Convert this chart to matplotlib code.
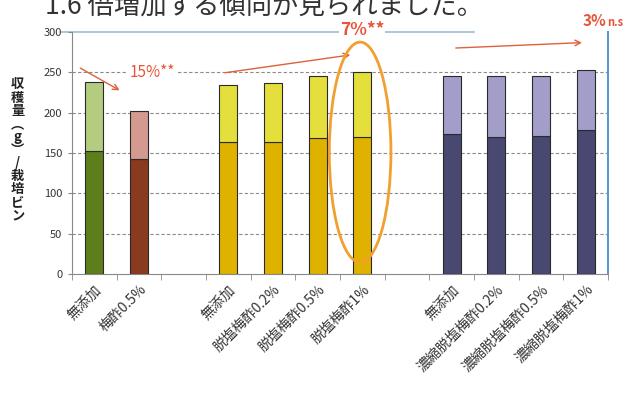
import numpy as np
import matplotlib
matplotlib.use("Agg")
import matplotlib.pyplot as plt
from matplotlib.patches import Ellipse

plt.rcParams['font.family'] = ['Noto Sans CJK JP', 'DejaVu Sans']

# categories ("" = empty slot between groups)
categories = ["無添加", "梅酢0.5%", "",
              "無添加", "脱塩梅酢0.2%", "脱塩梅酢0.5%", "脱塩梅酢1%", "",
              "無添加", "濃縮脱塩梅酢0.2%", "濃縮脱塩梅酢0.5%", "濃縮脱塩梅酢1%"]
lower = [152, 142, 0, 164, 164, 168, 170, 0, 173, 170, 171, 179]
total = [238, 202, 0, 234, 237, 246, 250, 0, 246, 246, 246, 253]
lower_colors = ["#5c7f1c", "#8a3a1f", None, "#dfb200", "#dfb200", "#dfb200", "#dfb200",
                None, "#484870", "#484870", "#484870", "#484870"]
upper_colors = ["#b4cc80", "#d49a8f", None, "#e4df3c", "#e4df3c", "#e4df3c", "#e4df3c",
                None, "#a29ec9", "#a29ec9", "#a29ec9", "#a29ec9"]
yticks = [0, 50, 100, 150, 200, 250, 300]

fig = plt.figure(figsize=(6.3, 3.97), dpi=100)
ax = fig.add_axes([0.1143, 0.3098, 0.8508, 0.6096])

x = np.arange(len(categories))
upper = [t - l for t, l in zip(total, lower)]
for i, name in enumerate(categories):
    if not name:
        continue
    ax.bar(x[i], lower[i], width=0.40, color=lower_colors[i], edgecolor="#2a2a2a", lw=0.8, zorder=3)
    ax.bar(x[i], upper[i], bottom=lower[i], width=0.40, color=upper_colors[i],
           edgecolor="#2a2a2a", lw=0.8, zorder=3)

ax.set_xlim(-0.5, len(categories) - 0.5)
ax.set_ylim(0, 300)

# grid lines
for v in yticks[1:-1]:
    ax.axhline(v, color="#8a8a8a", lw=0.8, ls=(0, (3, 2)), zorder=1)
ax.plot([-0.75, 8.5], [300, 300], color="#9fbcd0", lw=1.2, clip_on=False, zorder=1)

ax.set_yticks(yticks)
ax.tick_params(axis="y", length=3, color="#888888", labelsize=8, labelcolor="#333333", pad=4)
ax.set_xticks(x)
ax.set_xticklabels(categories, rotation=45, ha="right", rotation_mode="anchor",
                   fontsize=10, color="#333333")
ax.tick_params(axis="x", length=0, pad=6)
ax.set_xticks(np.arange(-0.5, len(categories)), minor=True)
ax.tick_params(axis="x", which="minor", length=4, color="#888888", direction="out")

ax.spines["top"].set_visible(False)
ax.spines["left"].set_color("#888888")
ax.spines["bottom"].set_color("#888888")
ax.spines["right"].set_color("#4a9ad4")
ax.spines["right"].set_linewidth(1.4)

# annotations
red = "#e8553a"
arrow = dict(arrowstyle="->", color="#e0603a", lw=1.0)
ax.annotate("", xy=(0.62, 226), xytext=(-0.37, 257), arrowprops=arrow, annotation_clip=False)
ax.annotate("", xy=(5.79, 272), xytext=(2.86, 249), arrowprops=arrow, annotation_clip=False)
ax.annotate("", xy=(10.98, 287), xytext=(8.03, 280), arrowprops=arrow, annotation_clip=False)

ax.text(1.3, 250, "15%**", color=red, fontsize=11, ha="center", va="center",
        bbox=dict(facecolor="white", edgecolor="none", pad=1), zorder=4)
ax.text(6.0, 302, "7%**", color=red, fontsize=12.5, fontweight="bold", ha="center", va="center",
        bbox=dict(facecolor="white", edgecolor="none", pad=0.5), zorder=4, clip_on=False)
ax.text(11.2, 314, "3%", color=red, fontsize=11, fontweight="bold", ha="center", va="center",
        clip_on=False)
ax.text(11.65, 312, "n.s", color=red, fontsize=8, fontweight="bold", ha="center", va="center",
        clip_on=False)

ax.add_patch(Ellipse((5.95, 151), 1.38, 273, fill=False, edgecolor="#f0a030", lw=2,
                     zorder=5, clip_on=False))

# y label (vertical writing)
fig.text(0.028, 1 - 150 / 397, "収\n穫\n量\n︵\ng\n︶\n/\n栽\n培\nビ\nン", fontsize=9.5,
         fontweight="bold", ha="center", va="center", linespacing=0.92, color="#222222")

# clipped heading from slide
fig.text(0.072, 1 - 14 / 397, "1.6 倍増加する傾向が見られました。", fontsize=19,
         color="#333333", ha="left", va="baseline")

fig.savefig("out.png", dpi=100)
